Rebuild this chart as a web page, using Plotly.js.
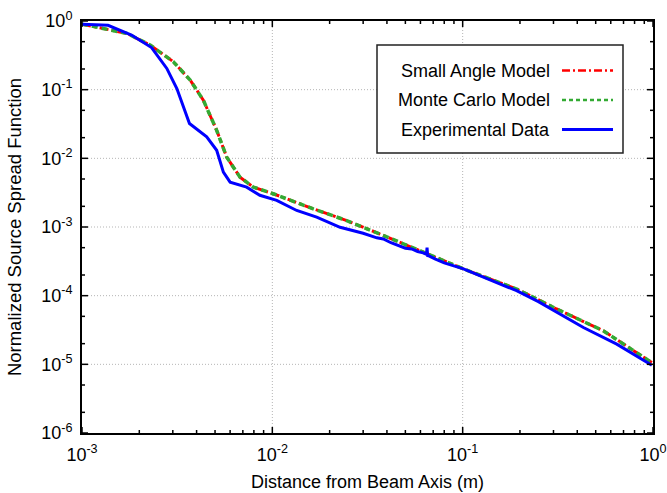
<!DOCTYPE html>
<html><head><meta charset="utf-8">
<script src="https://cdn.plot.ly/plotly-3.0.1.min.js"></script>
<style>body{margin:0;background:#fff}#c{width:667px;height:493px}</style>
</head><body><div id="c"></div>
<script>
// Experimental data
var expX = [0.001, 0.00137, 0.00182, 0.00232, 0.00279, 0.00315, 0.00367, 0.00452, 0.0051, 0.00553, 0.0060, 0.00733, 0.0086, 0.01054, 0.01343, 0.0171, 0.0227, 0.0300, 0.0354, 0.0383, 0.042, 0.046, 0.050, 0.054, 0.058, 0.062, 0.0645, 0.065, 0.0655, 0.066, 0.072, 0.080, 0.101, 0.140, 0.192, 0.250, 0.312, 0.431, 0.645, 0.986];
var expY = [0.90, 0.865, 0.625, 0.41, 0.204, 0.104, 0.0321, 0.0205, 0.0131, 0.0063, 0.0045, 0.0038, 0.0029, 0.00244, 0.00174, 0.00139, 0.00099, 0.00081, 0.000695, 0.00067, 0.00059, 0.00054, 0.00049, 0.00048, 0.00044, 0.00042, 0.00040, 0.00050, 0.00037, 0.000384, 0.00034, 0.00030, 0.000245, 0.000170, 0.000118, 0.000082, 0.000057, 0.0000344, 0.0000197, 0.0000097];
// Small angle model
var saX = [0.001, 0.00172, 0.00228, 0.00302, 0.0037, 0.00434, 0.0051, 0.00576, 0.00676, 0.00794, 0.0101, 0.0124, 0.0164, 0.0246, 0.0368, 0.101, 0.192, 0.312, 0.548, 0.986];
var saY = [0.90, 0.66, 0.447, 0.255, 0.138, 0.0703, 0.0256, 0.0104, 0.00533, 0.00381, 0.00305, 0.00244, 0.00184, 0.00124, 0.00079, 0.000245, 0.000125, 0.000064, 0.0000308, 0.0000106];
// Monte Carlo model
var mcX = [0.001, 0.00172, 0.00228, 0.00302, 0.0037, 0.00434, 0.0051, 0.00576, 0.00676, 0.00794, 0.0101, 0.0124, 0.0164, 0.0246, 0.0368, 0.101, 0.192, 0.312, 0.548, 0.986];
var mcY = [0.90, 0.66, 0.447, 0.255, 0.138, 0.0703, 0.0256, 0.0104, 0.00533, 0.00381, 0.00305, 0.00244, 0.00184, 0.00124, 0.00079, 0.000245, 0.000125, 0.000064, 0.0000308, 0.0000106];
var seriesNames = ["Small Angle Model", "Monte Carlo Model", "Experimental Data"];
var xTickVals = [0.001, 0.01, 0.1, 1];
var xTickText = ["10<sup>-3</sup>", "10<sup>-2</sup>", "10<sup>-1</sup>", "10<sup>0</sup>"];
var yTickVals = [1e-6, 1e-5, 1e-4, 1e-3, 1e-2, 1e-1, 1];
var yTickText = ["10<sup>-6</sup>", "10<sup>-5</sup>", "10<sup>-4</sup>", "10<sup>-3</sup>", "10<sup>-2</sup>", "10<sup>-1</sup>", "10<sup>0</sup>"];
var xMinorMult = [2, 3, 4, 5, 6, 7, 8, 9];
var yMinorMult = [2, 5];

var colors = ["#ff0000", "#33aa33", "#0000ff"];
var traces = [
  {x: saX, y: saY, mode: "lines", name: seriesNames[0], line: {color: colors[0], width: 3, dash: "dashdot"}},
  {x: mcX, y: mcY, mode: "lines", name: seriesNames[1], line: {color: colors[1], width: 3.5, dash: "6px,4px"}},
  {x: expX, y: expY, mode: "lines", name: seriesNames[2], line: {color: colors[2], width: 3}}
];

var fam = "Liberation Sans, Arial, sans-serif";
var axisCommon = {
  type: "log", showline: true, linecolor: "#000", linewidth: 2, mirror: true,
  ticks: "", ticklabelstandoff: 4,
  showgrid: false, zeroline: false, tickmode: "array",
  tickfont: {family: fam, size: 18, color: "#000"}
};

var PW = 571, PH = 412;
var shapes = [];
// dotted grid at major decades
var gridLine = {color: "#b5b5b5", width: 1, dash: "1px,2px"};
for (var i = 1; i < xTickVals.length - 1; i++)
  shapes.push({type: "line", xref: "x", yref: "paper", x0: xTickVals[i], x1: xTickVals[i], y0: 0, y1: 1, line: gridLine, layer: "below"});
for (var i = 1; i < yTickVals.length - 1; i++)
  shapes.push({type: "line", xref: "paper", yref: "y", x0: 0, x1: 1, y0: yTickVals[i], y1: yTickVals[i], line: gridLine, layer: "below"});

// tick marks (inside, mirrored)
var tickLine = {color: "#000", width: 1.5};
function xTick(v, len) {
  shapes.push({type: "line", xref: "x", yref: "paper", x0: v, x1: v, y0: 0, y1: len / PH, line: tickLine, layer: "above"});
  shapes.push({type: "line", xref: "x", yref: "paper", x0: v, x1: v, y0: 1, y1: 1 - len / PH, line: tickLine, layer: "above"});
}
function yTick(v, len) {
  shapes.push({type: "line", xref: "paper", yref: "y", x0: 0, x1: len / PW, y0: v, y1: v, line: tickLine, layer: "above"});
  shapes.push({type: "line", xref: "paper", yref: "y", x0: 1, x1: 1 - len / PW, y0: v, y1: v, line: tickLine, layer: "above"});
}
for (var i = 0; i < xTickVals.length; i++) {
  xTick(xTickVals[i], 6);
  if (i < xTickVals.length - 1) for (var j = 0; j < xMinorMult.length; j++) xTick(xTickVals[i] * xMinorMult[j], 3);
}
for (var i = 0; i < yTickVals.length; i++) {
  yTick(yTickVals[i], 6);
  if (i < yTickVals.length - 1) for (var j = 0; j < yMinorMult.length; j++) yTick(yTickVals[i] * yMinorMult[j], 3);
}

// legend drawn in paper coords
var lx0 = (377 - 82) / PW, lx1 = (623 - 82) / PW;
function py(p) { return 1 - (p - 21) / PH; }
shapes.push({type: "rect", xref: "paper", yref: "paper", x0: lx0, x1: lx1, y0: py(153), y1: py(45), line: {color: "#222", width: 1.5}, fillcolor: "#fff", layer: "above"});
var rowsY = [70.5, 100, 129.5];
var dashes = ["8px,3px,2px,3px", "4px,3px", "solid"];
var widths = [2.5, 2.5, 3];
var annotations = [];
for (var i = 0; i < 3; i++) {
  shapes.push({type: "line", xref: "paper", yref: "paper", x0: (562 - 82) / PW, x1: (613 - 82) / PW, y0: py(rowsY[i]), y1: py(rowsY[i]), line: {color: colors[i], width: widths[i], dash: dashes[i]}, layer: "above"});
  annotations.push({xref: "paper", yref: "paper", x: (552 - 82) / PW, y: py(rowsY[i]), xanchor: "right", yanchor: "middle", text: seriesNames[i], showarrow: false, font: {family: fam, size: 18, color: "#000"}});
}

var layout = {
  width: 667, height: 493,
  margin: {l: 82, r: 14, t: 21, b: 60},
  paper_bgcolor: "#fff", plot_bgcolor: "#fff",
  showlegend: false,
  font: {family: fam, color: "#000"},
  xaxis: Object.assign({}, axisCommon, {range: [-3, 0], tickvals: xTickVals, ticktext: xTickText,
    title: {text: "Distance from Beam Axis (m)", font: {family: fam, size: 18, color: "#000"}, standoff: 12}}),
  yaxis: Object.assign({}, axisCommon, {range: [-6, 0], tickvals: yTickVals, ticktext: yTickText,
    title: {text: "Normalized Source Spread Function", font: {family: fam, size: 18.5, color: "#000"}, standoff: 15}}),
  shapes: shapes,
  annotations: annotations
};
Plotly.newPlot("c", traces, layout, {displayModeBar: false, staticPlot: true});
</script></body></html>
